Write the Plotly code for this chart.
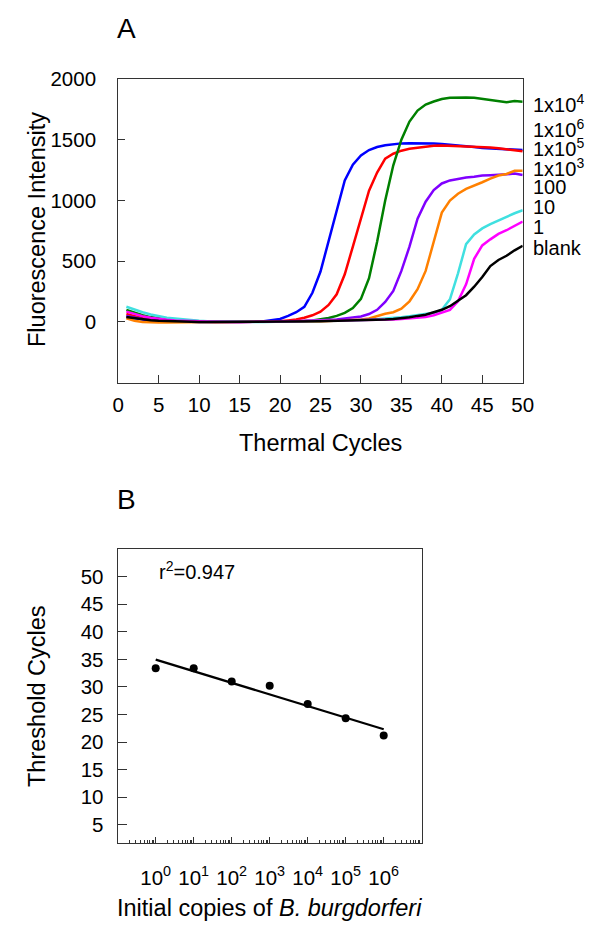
import numpy as np
import plotly.graph_objects as go

# ---------------- Panel A data ----------------
cycles = list(range(1, 51))

series_names = ["1x10^6", "1x10^5", "1x10^4", "1x10^3", "100", "10", "1", "blank"]

s_1e6 = [40, 30, 20, 12, 8, 5, 3, 2, 1, 0,
         0, 0, -2, -2, 0, 0, 2, 5, 12, 25,
         50, 80, 125, 240, 415, 670, 915, 1165, 1295, 1370,
         1415, 1440, 1455, 1465, 1470, 1472, 1472, 1470, 1470, 1465,
         1460, 1455, 1448, 1440, 1432, 1428, 1425, 1422, 1420, 1415]
s_1e5 = [65, 45, 30, 20, 12, 8, 5, 3, 2, 1,
         0, 0, -1, -1, 0, 0, 1, 2, 3, 5,
         12, 20, 35, 55, 85, 140, 228, 392, 620, 850,
         1080, 1230, 1345, 1385, 1410, 1425, 1432, 1445, 1450, 1452,
         1450, 1447, 1445, 1442, 1440, 1437, 1430, 1420, 1410, 1405]
s_1e4 = [100, 75, 55, 40, 28, 20, 15, 10, 8, 5,
         3, 2, 1, 0, 0, 0, 1, 1, 2, 2,
         3, 5, 8, 12, 20, 32, 50, 75, 115, 190,
         360, 660, 1000, 1290, 1500, 1650, 1740, 1790, 1815, 1835,
         1845, 1848, 1848, 1845, 1835, 1828, 1818, 1808, 1818, 1812]
s_1e3 = [50, 35, 25, 15, 10, 6, 4, 2, 1, 0,
         0, 0, 0, 0, 0, 1, 1, 2, 2, 3,
         5, 6, 8, 10, 12, 15, 20, 28, 38, 45,
         65, 100, 165, 255, 420, 620, 850, 990, 1085, 1140,
         1165, 1180, 1190, 1195, 1205, 1208, 1210, 1215, 1222, 1210]
s_100 = [30, 10, 0, -5, -5, -5, -3, -2, -1, 0,
         0, 0, 0, 0, 0, 0, 1, 1, 2, 2,
         2, 3, 4, 5, 6, 8, 10, 12, 15, 20,
         28, 50, 68, 80, 110, 170, 270, 420, 650, 900,
         1000, 1055, 1095, 1120, 1150, 1180, 1205, 1218, 1245, 1245]
s_10 = [125, 100, 80, 62, 46, 35, 28, 20, 14, 10,
        6, 4, 2, 0, -2, 0, 0, 0, 1, 1,
        2, 3, 4, 5, 6, 8, 10, 12, 14, 16,
        18, 22, 26, 30, 38, 48, 55, 62, 75, 100,
        186, 400, 640, 720, 770, 805, 835, 870, 895, 920]
s_1 = [85, 65, 48, 35, 25, 18, 12, 8, 6, 5,
       4, 2, 1, 0, 0, 0, 1, 1, 1, 2,
       2, 3, 4, 5, 6, 7, 8, 9, 10, 12,
       14, 16, 18, 20, 24, 28, 34, 40, 55, 75,
       100, 170, 310, 520, 630, 680, 725, 755, 790, 827]
s_blank = [40, 30, 22, 15, 10, 7, 5, 3, 2, 0,
           0, 0, 0, 0, 0, 0, 1, 1, 2, 2,
           2, 3, 4, 5, 6, 7, 8, 10, 12, 14,
           16, 18, 20, 24, 28, 38, 50, 60, 80, 100,
           130, 175, 220, 290, 370, 460, 510, 545, 590, 627]

series_values = [s_1e6, s_1e5, s_1e4, s_1e3, s_100, s_10, s_1, s_blank]
series_colors = ["#0000ff", "#ff0000", "#008000", "#8000ff",
                 "#ff8000", "#40e0e0", "#ff00ff", "#000000"]

# right-hand labels (top to bottom)
end_labels = ["1x10<sup>4</sup>", "1x10<sup>6</sup>", "1x10<sup>5</sup>",
              "1x10<sup>3</sup>", "100", "10", "1", "blank"]
end_label_py = [103.3, 128.3, 147.3, 167, 186.7, 206.7, 226.7, 248.3]  # pixel rows

a_xticks = list(range(0, 51, 5))
a_yticks = [0, 500, 1000, 1500, 2000]

# ---------------- Panel B data ----------------
copies = [1, 10, 100, 1e3, 1e4, 1e5, 1e6]
threshold = [33.4, 33.4, 31.0, 30.2, 26.9, 24.3, 21.2]
b_yticks = [5, 10, 15, 20, 25, 30, 35, 40, 45, 50]
b_xticks = [0.1, 1, 10, 100, 1e3, 1e4, 1e5, 1e6, 1e7]
b_xticktext = ["", "10<sup>0</sup>", "10<sup>1</sup>", "10<sup>2</sup>", "10<sup>3</sup>",
               "10<sup>4</sup>", "10<sup>5</sup>", "10<sup>6</sup>", ""]
r2_text = "r<sup>2</sup>=0.947"

W, H = 600, 943
OFF = 8  # page body margin offset
FONT = "Liberation Sans, Arial, sans-serif"
AX = "#333333"


def fx(px):
    return (px - OFF) / W


def fy(py):
    return 1 - (py - OFF) / H


fig = go.Figure()

for name, vals, col in zip(series_names, series_values, series_colors):
    fig.add_trace(go.Scatter(x=cycles, y=vals, mode="lines", name=name,
                             line=dict(color=col, width=2.5),
                             xaxis="x", yaxis="y", showlegend=False))

logc = np.log10(copies)
slope, intercept = np.polyfit(logc, threshold, 1)
fit_x = [copies[0], copies[-1]]
fit_y = [intercept + slope * np.log10(v) for v in fit_x]

fig.add_trace(go.Scatter(x=fit_x, y=fit_y, mode="lines",
                         line=dict(color="black", width=2.3),
                         xaxis="x2", yaxis="y2", showlegend=False))
fig.add_trace(go.Scatter(x=copies, y=threshold, mode="markers",
                         marker=dict(color="black", size=8),
                         xaxis="x2", yaxis="y2", showlegend=False))

minor_vals = [m * 10 ** k for k in range(-1, 7) for m in range(2, 10)]

common = dict(showgrid=False, zeroline=False, showline=True, mirror=True,
              automargin=False,
              linecolor=AX, linewidth=1.3, ticks="inside", tickcolor=AX,
              tickwidth=1.2, tickfont=dict(family=FONT, size=20.5, color="black"))

fig.update_layout(
    template="none",
    width=W, height=H, autosize=False,
    margin=dict(l=0, r=0, t=0, b=0, pad=0),
    paper_bgcolor="white", plot_bgcolor="white",
    font=dict(family=FONT, color="black"),
    xaxis=dict(domain=[fx(118.3), fx(522.7)], anchor="y", range=[0, 50],
               tickmode="array", tickvals=a_xticks, ticklen=8,
               ticklabelstandoff=4, **common),
    yaxis=dict(domain=[fy(382.7), fy(79)], anchor="x", range=[-500, 2000],
               tickmode="array", tickvals=a_yticks, ticklen=7,
               ticklabelstandoff=17, **common),
    xaxis2=dict(domain=[fx(117.7), fx(421.7)], anchor="y2", type="log",
                range=[-1, 7], tickmode="array", tickvals=b_xticks,
                ticktext=b_xticktext, ticklen=6, ticklabelstandoff=16,
                minor=dict(tickmode="array", tickvals=minor_vals, ticks="inside",
                           ticklen=3, tickcolor=AX, tickwidth=1, showgrid=False),
                **common),
    yaxis2=dict(domain=[fy(843), fy(549)], anchor="x2", range=[1.7, 55],
                tickmode="array", tickvals=b_yticks, ticklen=9,
                ticklabelstandoff=9, **common),
)


def note(text, px, py, size, xanchor="center", angle=0):
    return dict(text=text, x=fx(px), y=fy(py), xref="paper", yref="paper",
                xanchor=xanchor, yanchor="middle", showarrow=False, textangle=angle,
                font=dict(size=size, family=FONT, color="black"))


ann = [
    note("A", 126.7, 28.8, 28),
    note("B", 126.7, 499.5, 28),
    note("Fluorescence Intensity", 37, 230, 23.5, angle=-90),
    note("Thermal Cycles", 320.5, 443.3, 23.5),
    note("Threshold Cycles", 37, 696, 23.5, angle=-90),
    note("Initial copies of <i>B. burgdorferi</i>", 269.7, 908.3, 23.5),
    note(r2_text, 157, 570.7, 20, xanchor="left"),
]
for lab, py in zip(end_labels, end_label_py):
    ann.append(note(lab, 531, py, 20, xanchor="left"))
fig.update_layout(annotations=ann)

fig.write_html("out.html")
